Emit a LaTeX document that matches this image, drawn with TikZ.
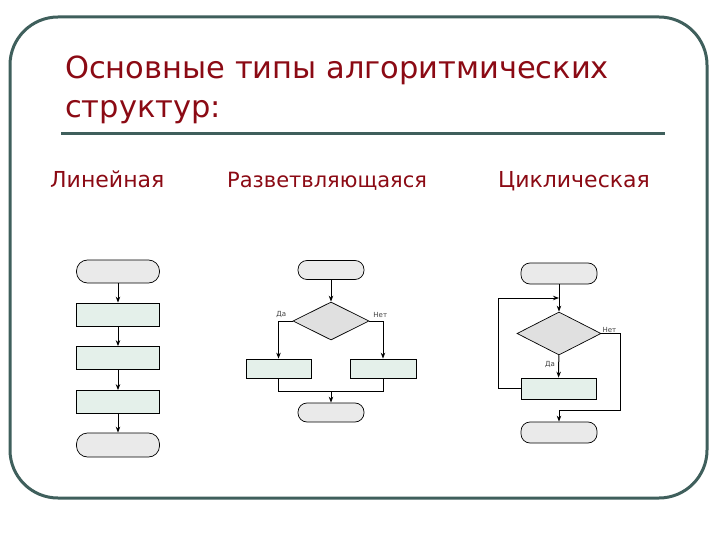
\documentclass[tikz,border=0pt]{standalone}
\usepackage{fontspec}
\setmainfont{DejaVu Sans}
\usetikzlibrary{shapes.geometric,arrows.meta}
\definecolor{frame}{HTML}{3F5F5C}
\definecolor{title}{HTML}{8B0A14}
\definecolor{termfill}{HTML}{EAEAEA}
\definecolor{procfill}{HTML}{E4F0EA}
\definecolor{condfill}{HTML}{E0E0E0}
\begin{document}
\begin{tikzpicture}[x=1pt, y=-1pt, >={Stealth[length=6pt,width=4.5pt]},
    term/.style={draw, fill=termfill, rounded corners=9pt, inner sep=0pt, line width=0.7pt},
    proc/.style={draw, fill=procfill, inner sep=0pt, line width=0.7pt},
    cond/.style={draw, fill=condfill, diamond, inner sep=0pt, line width=0.7pt},
    flow/.style={line width=1pt},
    tiny/.style={font=\fontsize{7}{8}\selectfont, text=black!75}]
    \useasboundingbox (0,0) rectangle (720,540);

    % frame and title
    \draw[frame, line width=3pt, rounded corners=48pt] (10,17) rectangle (707,498);
    \node[anchor=base west, text=title, font=\fontsize{30.5}{36}\selectfont, inner sep=0pt] (t1) at (65,79) {Основные типы алгоритмических};
    \node[anchor=base west, text=title, font=\fontsize{30.5}{36}\selectfont, inner sep=0pt] (t2) at (65,118) {структур:};
    \draw[frame, line width=3pt] (61,134) -- (665,134);

    \node[anchor=base west, text=title, font=\fontsize{22}{26}\selectfont, inner sep=0pt] (lin) at (50,188) {Линейная};
    \node[anchor=base west, text=title, font=\fontsize{21}{26}\selectfont, inner sep=0pt] (razv) at (227,188) {Разветвляющаяся};
    \node[anchor=base west, text=title, font=\fontsize{22}{26}\selectfont, inner sep=0pt] (cikl) at (498,188) {Циклическая};

    % linear
    \node[term, minimum width=83pt, minimum height=23pt, rounded corners=11pt] (lt1) at (118,271.5) {};
    \node[proc, minimum width=83pt, minimum height=23pt] (lr1) at (118,314.5) {};
    \node[proc, minimum width=83pt, minimum height=23pt] (lr2) at (118,358) {};
    \node[proc, minimum width=83pt, minimum height=23pt] (lr3) at (118,402) {};
    \node[term, minimum width=83pt, minimum height=24pt, rounded corners=11pt] (lt2) at (118,445) {};
    \draw[flow,->] (lt1) -- (lr1);
    \draw[flow,->] (lr1) -- (lr2);
    \draw[flow,->] (lr2) -- (lr3);
    \draw[flow,->] (lr3) -- (lt2);

    % branching
    \node[term, minimum width=66pt, minimum height=19pt] (bt1) at (331,270) {};
    \node[cond, minimum width=76pt, minimum height=38pt] (bd) at (331,321) {};
    \node[proc, minimum width=65pt, minimum height=19pt] (bl) at (278.5,368.5) {};
    \node[proc, minimum width=66pt, minimum height=19pt] (br) at (383,368.5) {};
    \node[term, minimum width=66pt, minimum height=19pt] (bt2) at (331,412.5) {};
    \coordinate (bj) at (331,391);
    \draw[flow,->] (bt1) -- (bd);
    \draw[flow,->] (bd.west) -| (bl) node[tiny, pos=0.4, above] (bda) {Да};
    \draw[flow,->] (bd.east) -| (br) node[tiny, pos=0.4, above] (bnet) {Нет};
    \draw[flow] (bl) |- (bj);
    \draw[flow] (br) |- (bj);
    \draw[flow,->] (bj) -- (bt2);

    % cycle
    \node[term, minimum width=76pt, minimum height=21pt] (ct1) at (559,273.5) {};
    \node[cond, minimum width=84pt, minimum height=43pt] (cd) at (559,333.5) {};
    \node[proc, minimum width=75pt, minimum height=21pt] (cr) at (558.5,388.5) {};
    \node[term, minimum width=76pt, minimum height=21pt] (ct2) at (559,432.5) {};
    \coordinate (cl) at (559,298);
    \coordinate (cw) at (498,298);
    \coordinate (ce) at (620,410);
    \draw[flow] (ct1) -- (cl);
    \draw[flow,->] (cl) -- (cd);
    \draw[flow,->] (cr.west) -| (cw) -- (cl);
    \draw[flow,->] (cd) -- (cr) node[tiny, pos=0.4, left] (cda) {Да};
    \draw[flow,->] (cd.east) -| (ce) -| (ct2);
    \node[tiny, above right, inner sep=1pt] (cnet) at (cd.east) {Нет};
\end{tikzpicture}
\end{document}
